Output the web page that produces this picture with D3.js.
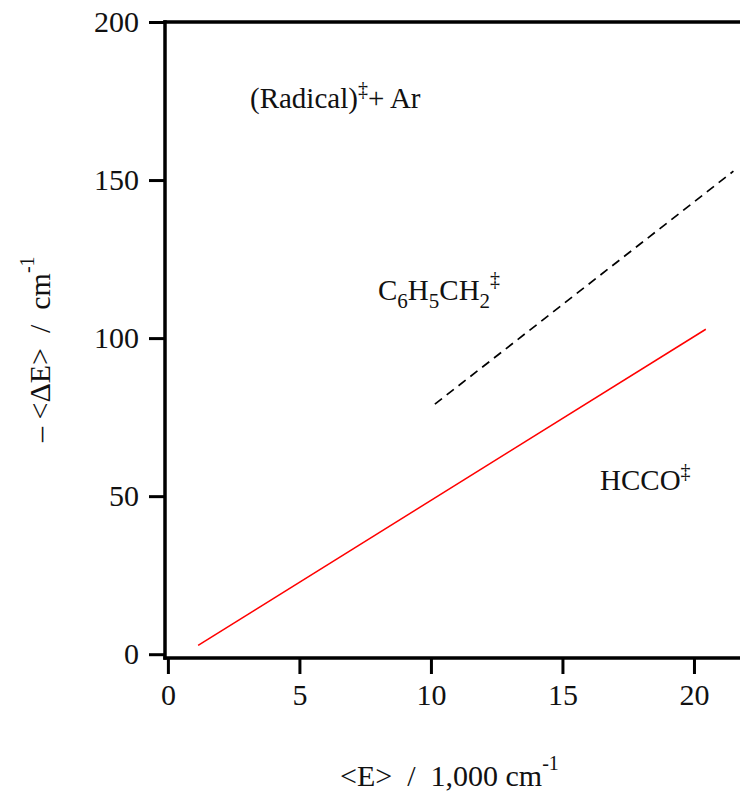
<!DOCTYPE html>
<meta charset="utf-8">
<script src="https://d3js.org/d3.v7.min.js"></script>
<style>
  body { margin: 0; background: #fff; }
  text { font-family: "Liberation Serif", "DejaVu Serif", serif; fill: #111; }
</style>
<div id="my_dataviz"></div>
<script>

// data
var xTicks = [0, 5, 10, 15, 20];
var yTicks = [0, 50, 100, 150, 200];
var hccoE = [1.15, 20.45];        // <E> / 1,000 cm-1
var hccoDE = [2.8, 102.8];        // -<dE> / cm-1
var benzylE = [10.15, 21.5];
var benzylDE = [79.1, 152.8];

var width = 740, height = 794;

var svg = d3.select("#my_dataviz")
  .append("svg")
    .attr("width", width)
    .attr("height", height);

// scales
var x = d3.scaleLinear().domain([-0.11, 21.75]).range([165, 740]);
var y = d3.scaleLinear().domain([-1.2, 200]).range([658, 22]);

// x axis
svg.append("g")
    .attr("transform", "translate(0," + y(-1.2) + ")")
    .call(d3.axisBottom(x).tickValues(xTicks).tickSize(16).tickPadding(10))
    .call(function(g) { g.select(".domain").remove(); })
    .call(function(g) {
      g.selectAll("line").attr("stroke", "#000").attr("stroke-width", 3);
      g.selectAll("text").attr("font-size", 30).attr("font-family", null).attr("fill", "#111");
    });

// y axis
svg.append("g")
    .attr("transform", "translate(" + x(-0.11) + ",0)")
    .call(d3.axisLeft(y).tickValues(yTicks).tickSize(16).tickPadding(10))
    .call(function(g) { g.select(".domain").remove(); })
    .call(function(g) {
      g.selectAll("line").attr("stroke", "#000").attr("stroke-width", 3);
      g.selectAll("text").attr("font-size", 30).attr("font-family", null).attr("fill", "#111");
    });

// frame: left, top and bottom lines
var frame = [[x(-0.11), y(-1.2), x(21.75), y(-1.2)],
             [x(-0.11), y(200), x(21.75), y(200)],
             [x(-0.11), y(200), x(-0.11), y(-1.2)]];
svg.selectAll(".frame")
  .data(frame)
  .enter()
  .append("line")
    .attr("x1", function(d) { return d[0]; })
    .attr("y1", function(d) { return d[1]; })
    .attr("x2", function(d) { return d[2]; })
    .attr("y2", function(d) { return d[3]; })
    .attr("stroke", "#000")
    .attr("stroke-width", 3.5)
    .attr("stroke-linecap", "square");

var line = d3.line()
    .x(function(d) { return x(d[0]); })
    .y(function(d) { return y(d[1]); });

// HCCO line
svg.append("path")
    .datum(d3.zip(hccoE, hccoDE))
    .attr("d", line)
    .attr("fill", "none")
    .attr("stroke", "#ff0000")
    .attr("stroke-width", 1.5);

// benzyl line
svg.append("path")
    .datum(d3.zip(benzylE, benzylDE))
    .attr("d", line)
    .attr("fill", "none")
    .attr("stroke", "#000")
    .attr("stroke-width", 1.7)
    .attr("stroke-dasharray", "9,6");

// annotations
var t1 = svg.append("text").attr("x", 250).attr("y", 108).attr("font-size", 29);
t1.append("tspan").text("(Radical)");
t1.append("tspan").attr("dy", -12).attr("font-size", 20).text("\u2021");
t1.append("tspan").attr("dy", 12).text("+ Ar");

var t2 = svg.append("text").attr("x", 378).attr("y", 300).attr("font-size", 29);
t2.append("tspan").text("C");
t2.append("tspan").attr("dy", 8).attr("font-size", 21).text("6");
t2.append("tspan").attr("dy", -8).text("H");
t2.append("tspan").attr("dy", 8).attr("font-size", 21).text("5");
t2.append("tspan").attr("dy", -8).text("CH");
t2.append("tspan").attr("dy", 8).attr("font-size", 21).text("2");
t2.append("tspan").attr("dy", -22).attr("font-size", 20).text("\u2021");

var t3 = svg.append("text").attr("x", 600).attr("y", 490).attr("font-size", 29);
t3.append("tspan").text("HCCO");
t3.append("tspan").attr("dy", -12).attr("font-size", 20).text("\u2021");

// axis labels
var sp = "\u00a0";
var xl = svg.append("text")
    .attr("x", 340).attr("y", 786)
    .attr("font-size", 30);
xl.append("tspan").text("<E>" + sp + sp + "/" + sp + sp + "1,000" + sp + "cm");
xl.append("tspan").attr("dy", -16).attr("font-size", 20).text("-1");

var yl = svg.append("text")
    .attr("transform", "translate(50,442) rotate(-90)")
    .attr("font-size", 30);
yl.append("tspan").text("\u2013" + sp + "<\u0394E>" + sp + sp + "/" + sp + sp + "cm");
yl.append("tspan").attr("dy", -16).attr("font-size", 20).text("-1");

</script>
